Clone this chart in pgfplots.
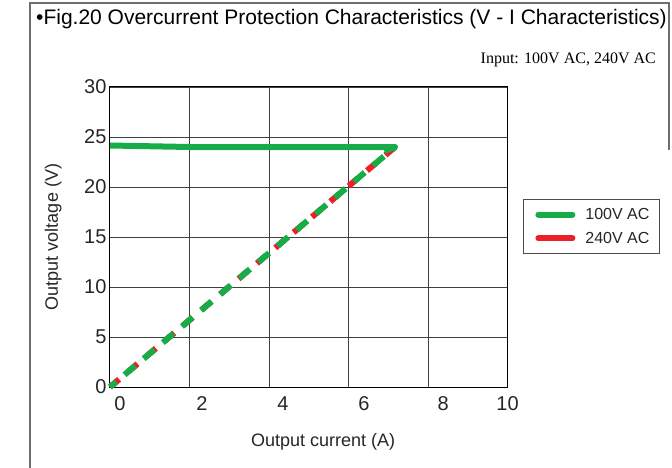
\documentclass[border=0pt]{standalone}
\usepackage{fontspec}
\setmainfont{Liberation Sans}
\newfontfamily\seriffont{Liberation Serif}
\usepackage{pgfplots}
\pgfplotsset{compat=1.18}
\definecolor{cgreen}{RGB}{22,172,72}
\definecolor{cred}{RGB}{236,32,40}
\definecolor{frame}{RGB}{110,110,110}
\begin{document}
\begin{tikzpicture}
\path[use as bounding box] (0pt,0pt) rectangle (672pt,-468pt);
\draw[frame, line width=1.2pt] (30pt,-468pt) -- (30pt,-3pt) -- (669pt,-3pt) -- (669pt,-150pt);
\node[anchor=west, inner sep=0pt, font=\fontsize{21}{25}\selectfont] at (36pt,-19pt) {\textbullet Fig.20 Overcurrent Protection Characteristics (V - I Characteristics)};
\node[anchor=east, inner sep=0pt, font=\seriffont\fontsize{16}{19}\selectfont] at (656pt,-60pt) {Input: 100V AC, 240V AC};
\begin{axis}[
  at={(110pt,-387pt)}, anchor=south west,
  width=397.5pt, height=300pt, scale only axis,
  xmin=0, xmax=10, ymin=0, ymax=30,
  xtick={0.25,2.31,4.35,6.39,8.38,10},
  xticklabels={0,2,4,6,8,10},
  minor xtick={2,4,6,8},
  xmajorgrids=false, xminorgrids=true,
  ytick={0,5,10,15,20,25,30},
  ymajorgrids=true,
  major tick length=0pt, minor tick length=0pt,
  /pgf/number format/assume math mode=true,
  tick label style={font=\fontsize{20}{24}\selectfont, text=black!85},
  xticklabel style={anchor=center, yshift=-17pt},
  grid style={black!75, line width=0.8pt},
  minor grid style={black!75, line width=0.8pt},
  axis line style={black, line width=1pt},
  xlabel={Output current (A)},
  ylabel={Output voltage (V)},
  label style={font=\fontsize{18}{22}\selectfont, text=black!85},
  xlabel style={at={(rel axis cs:0.536,-0.183)}, anchor=center},
  ylabel style={at={(rel axis cs:-0.143,0.5)}, anchor=center},
  clip=false,
  legend style={at={(rel axis cs:1.039,0.627)}, anchor=north west,
    draw=black!70, line width=0.8pt, font=\fontsize{16}{19}\selectfont,
    inner xsep=6pt, inner ysep=7pt, row sep=7pt,
    nodes={inner ysep=2pt, inner xsep=4pt, text=black!85}},
  legend cell align=left,
  legend image code/.code={\path[draw=none] (0pt,0pt) -- (52pt,0pt); \draw[#1, line cap=round] (9pt,0pt) -- (43pt,0pt);},
]
\addplot[cred, line width=6pt, dash pattern=on 12pt off 12pt, forget plot] coordinates {(0,0) (7.17,24.0)};
\addplot[cgreen, line width=6pt, dash pattern=on 14pt off 11pt, dash phase=6pt, forget plot] coordinates {(0,0) (7.17,24.0)};
\addplot[cgreen, line width=6pt, line join=round, forget plot] coordinates {(0,24.15) (2,24.0) (7.17,24.0) (6.9,23.6)};
\addlegendimage{cgreen, line width=6pt, line cap=round}
\addlegendentry{100V AC}
\addlegendimage{cred, line width=6pt, line cap=round}
\addlegendentry{240V AC}
\end{axis}
\end{tikzpicture}
\end{document}
